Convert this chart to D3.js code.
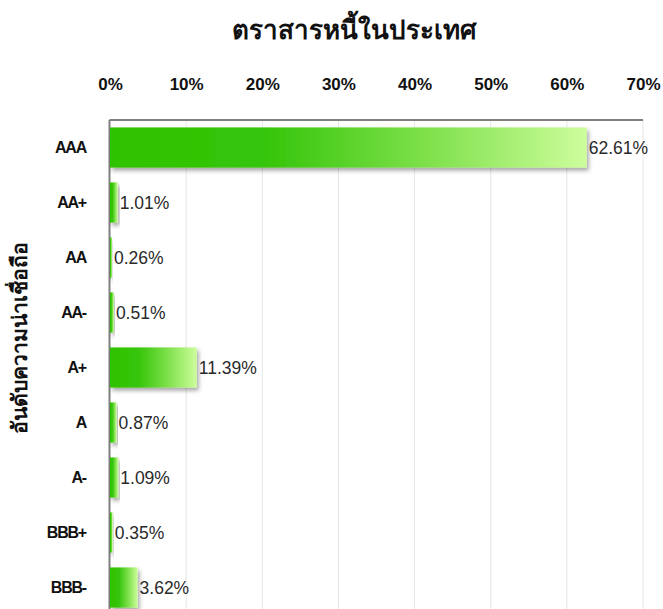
<!DOCTYPE html>
<html>
<head>
<meta charset="utf-8">
<script src="https://cdn.jsdelivr.net/npm/d3@7"></script>
<style>
  html, body { margin: 0; padding: 0; background: #fff; }
  svg { display: block; }
  text { font-family: "Liberation Sans", Arial, "Noto Sans", sans-serif; }
</style>
</head>
<body>
<svg id="chart" width="663" height="609"></svg>
<script>
// Domestic debt instruments by credit rating (share of portfolio, %)
const ratings = ["AAA", "AA+", "AA", "AA-", "A+", "A", "A-", "BBB+", "BBB-"];
const shares = [62.61, 1.01, 0.26, 0.51, 11.39, 0.87, 1.09, 0.35, 3.62];
const tickValues = [0, 10, 20, 30, 40, 50, 60, 70];
const tickLabels = ["0%", "10%", "20%", "30%", "40%", "50%", "60%", "70%"];
const chartTitle = "ตราสารหนี้ในประเทศ";
const axisTitle = "อันดับความน่าเชื่อถือ";

const svg = d3.select("#chart");
const plotLeft = 110, plotRight = 643, plotTop = 120;

const x = d3.scaleLinear().domain([0, 70]).range([plotLeft, plotRight]);
const y = d3.scaleBand().domain(ratings).range([plotTop, plotTop + 55 * ratings.length])
  .paddingInner(0.27).paddingOuter(0.135);

const defs = svg.append("defs");
const grad = defs.append("linearGradient").attr("id", "barFill")
  .attr("x1", "0%").attr("x2", "100%").attr("y1", "0%").attr("y2", "0%");
grad.append("stop").attr("offset", "0%").attr("stop-color", "#2fc300");
grad.append("stop").attr("offset", "33%").attr("stop-color", "#36c50a");
grad.append("stop").attr("offset", "66%").attr("stop-color", "#7de04a");
grad.append("stop").attr("offset", "100%").attr("stop-color", "#cdfd9c");

const shadow = defs.append("filter").attr("id", "barShadow")
  .attr("x", "-10%").attr("y", "-20%").attr("width", "130%").attr("height", "150%");
shadow.append("feDropShadow").attr("dx", 2).attr("dy", 3).attr("stdDeviation", 2)
  .attr("flood-color", "#000").attr("flood-opacity", 0.35);

// Title
svg.append("text").attr("x", 354).attr("y", 39).attr("text-anchor", "middle")
  .attr("font-size", 26).attr("font-weight", "bold").attr("fill", "#111")
  .text(chartTitle);

// Vertical gridlines
svg.append("g").selectAll("line").data(tickValues.slice(1)).join("line")
  .attr("x1", d => x(d)).attr("x2", d => x(d))
  .attr("y1", plotTop).attr("y2", 609)
  .attr("stroke", "#e6e6e6").attr("stroke-width", 1);

// Top axis with percent labels
const xAxis = d3.axisTop(x).tickValues(tickValues)
  .tickFormat((d, i) => tickLabels[i]).tickSize(0).tickPadding(0);
const gx = svg.append("g").attr("transform", "translate(0,90)").call(xAxis);
gx.select(".domain").remove();
gx.selectAll("text").attr("font-size", 17).attr("font-weight", "bold")
  .attr("fill", "#111").attr("font-family", "'Liberation Sans', Arial, sans-serif");

// Plot frame: top and left edges
svg.append("line").attr("x1", plotLeft - 0.5).attr("x2", plotRight).attr("y1", plotTop).attr("y2", plotTop)
  .attr("stroke", "#808080").attr("stroke-width", 2);
svg.append("line").attr("x1", plotLeft - 0.5).attr("x2", plotLeft - 0.5).attr("y1", plotTop).attr("y2", 609)
  .attr("stroke", "#808080").attr("stroke-width", 2);

// Bars
svg.append("g").selectAll("rect").data(ratings).join("rect")
  .attr("x", plotLeft)
  .attr("y", d => y(d))
  .attr("width", (d, i) => Math.max(1, x(shares[i]) - plotLeft))
  .attr("height", y.bandwidth())
  .attr("fill", "url(#barFill)")
  .attr("filter", "url(#barShadow)");

// Value labels
svg.append("g").selectAll("text").data(ratings).join("text")
  .attr("x", (d, i) => x(shares[i]) + 2)
  .attr("y", d => y(d) + y.bandwidth() / 2)
  .attr("dy", "0.36em")
  .attr("font-size", 17.5).attr("fill", "#2a2a2a")
  .text((d, i) => shares[i].toFixed(2) + "%");

// Rating labels
const yAxis = d3.axisLeft(y).tickSize(0).tickPadding(0);
const gy = svg.append("g").attr("transform", "translate(86,0)").call(yAxis);
gy.select(".domain").remove();
gy.selectAll("text").attr("font-size", 16).attr("font-weight", "bold")
  .attr("letter-spacing", "-1.2px")
  .attr("fill", "#111").attr("font-family", "'Liberation Sans', Arial, sans-serif");

// Axis title
svg.append("text").attr("transform", "translate(27,338) rotate(-90)")
  .attr("text-anchor", "middle").attr("font-size", 21).attr("font-weight", "bold")
  .attr("fill", "#111").text(axisTitle);
</script>
</body>
</html>
